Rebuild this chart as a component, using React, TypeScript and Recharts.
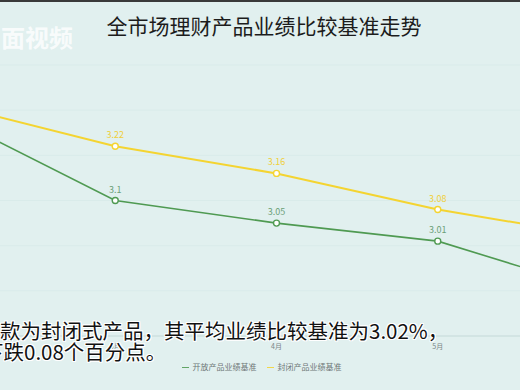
import { LineChart, Line, XAxis, YAxis, CartesianGrid, Legend, LabelList } from "recharts";

const months = ["2月", "3月", "4月", "5月", "6月"];
const openValues = [3.28, 3.1, 3.05, 3.01, 2.9];
const closedValues = [3.31, 3.22, 3.16, 3.08, 3.02];
const yTicks = [2.8, 2.9, 3.0, 3.1, 3.2, 3.3, 3.4];
const seriesOrder = ["open", "closed"];

const data = months.map((m, i) => ({
  month: m,
  open: openValues[i],
  closed: closedValues[i],
}));

const FONT = '"Noto Sans CJK SC", "Noto Sans", sans-serif';
const GREEN = "#4f9a52";
const YELLOW = "#f4d431";

export default function App() {
  return (
    <div
      style={{
        position: "fixed",
        left: 0,
        top: 0,
        width: 520,
        height: 390,
        overflow: "hidden",
        background: "#e1f0ef",
        fontFamily: FONT,
        borderTop: "2px solid #3a3a3a",
        boxSizing: "border-box",
      }}
    >
      <div style={{ position: "absolute", left: -46, top: -2 }}>
        <LineChart
          width={645}
          height={390}
          data={data}
          margin={{ top: 65, right: 0, left: 0, bottom: 18 }}
        >
          <CartesianGrid vertical={false} stroke="#d9ebea" />
          <XAxis
            dataKey="month"
            height={25}
            axisLine={{ stroke: "#c8dbda" }}
            tickLine={false}
            tick={{ fill: "#7a8585", fontSize: 7 }}
          />
          <YAxis hide domain={[2.8, 3.4]} ticks={yTicks} />
          <Legend
            verticalAlign="bottom"
            iconType="plainline"
            iconSize={7}
            itemSorter={(item: any) => seriesOrder.indexOf(item.dataKey)}
            wrapperStyle={{ fontSize: 8, left: -10 }}
            formatter={(v) => <span style={{ color: "#6e7777" }}>{v}</span>}
          />
          <Line
            type="linear"
            dataKey="open"
            name="开放产品业绩基准"
            stroke={GREEN}
            strokeWidth={1.6}
            dot={{ r: 3, fill: "#ffffff", stroke: GREEN, strokeWidth: 1.4 }}
            isAnimationActive={false}
          >
            <LabelList dataKey="open" position="top" offset={8} fill="#6c9f78" fontSize={9} />
          </Line>
          <Line
            type="linear"
            dataKey="closed"
            name="封闭产品业绩基准"
            stroke={YELLOW}
            strokeWidth={2}
            dot={{ r: 3, fill: "#ffffff", stroke: YELLOW, strokeWidth: 1.4 }}
            isAnimationActive={false}
          >
            <LabelList dataKey="closed" position="top" offset={8} fill="#f0cf3a" fontSize={9} />
          </Line>
        </LineChart>
      </div>
      <div
        style={{
          position: "absolute",
          left: 0,
          width: 528,
          top: 8,
          textAlign: "center",
          fontSize: 21,
          fontWeight: 400,
          color: "#1c1c1c",
        }}
      >
        全市场理财产品业绩比较基准走势
      </div>
      <div
        style={{
          position: "absolute",
          left: 1,
          top: 17,
          fontSize: 24,
          fontWeight: 700,
          color: "rgba(255,255,255,0.8)",
        }}
      >
        面视频
      </div>
      <div
        style={{
          position: "absolute",
          left: 0,
          top: 318,
          fontSize: 20.5,
          lineHeight: "21px",
          color: "#111",
          whiteSpace: "nowrap",
          textShadow:
            "1px 0 #fff, -1px 0 #fff, 0 1px #fff, 0 -1px #fff, 1px 1px #fff, -1px -1px #fff, 1px -1px #fff, -1px 1px #fff",
        }}
      >
        <div>款为封闭式产品，其平均业绩比较基准为3.02%，</div>
        <div style={{ marginLeft: -17 }}>下跌0.08个百分点。</div>
      </div>
    </div>
  );
}
